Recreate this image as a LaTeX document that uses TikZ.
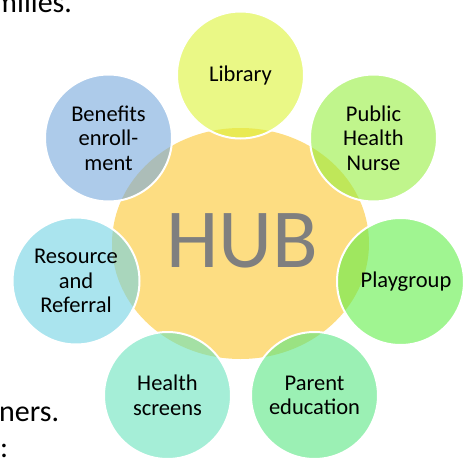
\documentclass[tikz,border=0pt]{standalone}
\usepackage{fontspec}
\setmainfont{Carlito}
\usetikzlibrary{shapes.geometric}
\definecolor{hubc}{RGB}{253,221,130}
\definecolor{libc}{RGB}{220,243,53}
\definecolor{phnc}{RGB}{150,238,63}
\definecolor{playc}{RGB}{97,238,72}
\definecolor{parc}{RGB}{88,230,130}
\definecolor{healc}{RGB}{105,227,188}
\definecolor{resc}{RGB}{113,210,227}
\definecolor{benc}{RGB}{118,168,220}
\definecolor{hubtext}{RGB}{127,127,127}
\begin{document}
\begin{tikzpicture}[x=1pt,y=-1pt,
  outer/.style={circle, minimum size=127pt, inner sep=0pt, draw=white, line width=2pt,
    fill opacity=0.6, text opacity=1, align=center, text=black,
    font=\fontsize{22.5}{24.5}\selectfont},
  bgtext/.style={font=\fontsize{30}{32}\selectfont, inner sep=0pt, text=black}]
\useasboundingbox (0,0) rectangle (472,458);
\clip (0,0) rectangle (472,458);
% background document text fragments
\node[bgtext, anchor=base west] (t1) at (-7,12) {milies.};
\node[bgtext, anchor=base west] (t2) at (-1,421.5) {ners.};
\node[bgtext, anchor=base west] (t3) at (0,457) {:};
% hub
\node[ellipse, minimum width=257pt, minimum height=231pt, inner sep=0pt, fill=hubc] (hub) at (240.5,243.5) {};
\node[anchor=base, inner sep=0pt, text=hubtext, font=\fontsize{84}{90}\selectfont] (hubt) at (242.5,267) {HUB};
% outer circles
\node[outer, fill=libc] (lib) at (240.5,75) {Library};
\node[outer, fill=phnc] (phn) at (373.5,138) {Public\\Health\\Nurse};
\node[outer, fill=playc] (play) at (400.5,281.5) {\hspace{11pt}Playgroup};
\node[outer, fill=parc] (par) at (314.5,395.5) {Parent\\education};
\node[outer, fill=healc] (heal) at (167.5,395.5) {Health\\screens};
\node[outer, fill=resc] (res) at (76,281) {Resource\\and\\Referral};
\node[outer, fill=benc] (ben) at (108.5,138) {Benefits\\enroll-\\ment};
\end{tikzpicture}
\end{document}
